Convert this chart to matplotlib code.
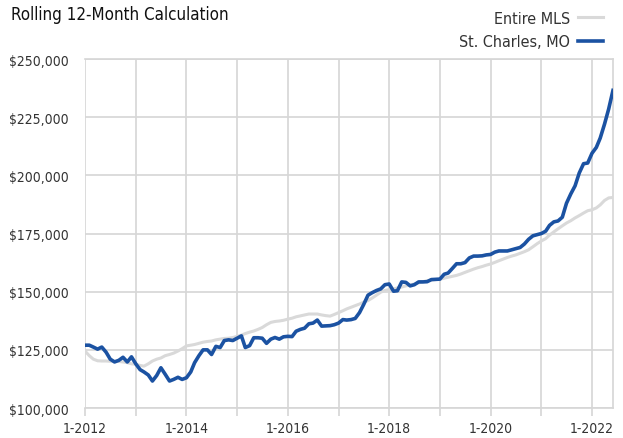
import matplotlib
matplotlib.use("Agg")
import matplotlib.pyplot as plt
import matplotlib.dates as mdate
import matplotlib.ticker as mtick
import pandas as pd

# monthly rolling 12-month median sales price, 1-2012 .. 6-2022
months = pd.date_range("2012-01-01", periods=126, freq="MS")

st_charles = [
    127000, 127000, 126200, 125300, 126200, 124000, 121000, 119800, 120500, 121800, 119800, 122000,
    119000, 116500, 115500, 114200, 111600, 114000, 117300, 114500, 111600, 112300, 113200, 112300,
    113000, 115500, 119500, 122500, 125000, 125000, 123000, 126500, 126000, 129000, 129300, 129000,
    130000, 131000, 126000, 126800, 130200, 130200, 130000, 127800, 129600, 130300, 129600, 130600,
    130800, 130700, 133000, 133800, 134300, 136200, 136500, 137800, 135200, 135300, 135400, 135800,
    136500, 138000, 137800, 138000, 138500, 141000, 144500, 148500, 149600, 150500, 151200, 153000,
    153300, 150200, 150400, 154200, 154000, 152500, 153000, 154200, 154200, 154300, 155200, 155300,
    155400, 157500, 158000, 160000, 162000, 162000, 162500, 164500, 165300, 165300, 165400, 165800,
    166000, 167000, 167500, 167500, 167500, 168000, 168500, 169000, 170500, 172500, 174000, 174500,
    175000, 176000, 178500, 180000, 180400, 182000, 188000, 192000, 195500, 201000, 205000, 205300,
    209500, 212000, 216000, 222000, 228500, 236500,
]

entire_mls = [
    124500, 122500, 121000, 120300, 120200, 120200, 120100, 120100, 120000, 119800, 119500, 119000,
    118800, 118300, 118000, 119000, 120200, 121000, 121500, 122500, 123000, 123600, 124500, 125500,
    126700, 127000, 127300, 127800, 128300, 128600, 128800, 129300, 129600, 129900, 130000, 130300,
    130800, 131300, 132000, 132600, 133100, 133800, 134600, 135800, 136800, 137200, 137400, 137700,
    138200, 138600, 139200, 139600, 140000, 140400, 140400, 140400, 140000, 139700, 139500, 140200,
    141000, 141800, 142600, 143300, 144000, 144700, 145500, 146200, 147300, 148500, 149800, 150500,
    150900, 151200, 151600, 152000, 152500, 152900, 153300, 153800, 154300, 154700, 155000, 155200,
    155400, 155800, 156200, 156600, 157000, 157600, 158300, 159000, 159700, 160300, 160800, 161400,
    161900, 162600, 163300, 164000, 164700, 165300, 165800, 166500, 167200, 168000, 169300, 170600,
    171800, 172800, 174300, 175700, 177000, 178300, 179500, 180500, 181700, 182700, 183800, 184800,
    185200, 186000, 187300, 189200, 190300, 190500,
]

plt.rcParams['font.family'] = ['DejaVu Sans']
plt.rcParams['font.stretch'] = 'condensed'

grid_col = '#d6d6d6'
blue = '#1b52a2'
gray = '#d9d9d9'

fig = plt.figure(figsize=(6.23, 4.39), dpi=100)
ax = fig.add_axes([0.1364, 0.0683, 0.8475, 0.795])

ax.plot(months, entire_mls, color=gray, lw=2.2, label='Entire MLS', zorder=3)
ax.plot(months, st_charles, color=blue, lw=2.6, label='St. Charles, MO', zorder=4)

ax.set_xlim(months[0], months[-1])
ax.set_ylim(100000, 250000)
ax.yaxis.set_major_locator(mtick.MultipleLocator(25000))
ax.yaxis.set_major_formatter(mtick.StrMethodFormatter('${x:,.0f}'))
ax.xaxis.set_major_locator(mdate.YearLocator(2))
ax.xaxis.set_minor_locator(mdate.YearLocator(1))
ax.xaxis.set_major_formatter(mdate.DateFormatter('1-%Y'))

ax.grid(True, which='both', color=grid_col, lw=1.2)
ax.set_axisbelow(True)
for s in ax.spines.values():
    s.set_color(grid_col)
    s.set_linewidth(1.2)
ax.spines['left'].set_visible(False)

ax.tick_params(axis='x', which='both', length=6, color=grid_col, width=1.2,
               labelsize=10, labelcolor='#333333', pad=3)
ax.tick_params(axis='y', length=0, labelsize=10, labelcolor='#333333', pad=12)

fig.text(0.018, 0.965, 'Rolling 12-Month Calculation', fontsize=12.2, color='#111111',
         ha='left', va='center')

leg = ax.legend(loc='lower right', bbox_to_anchor=(1.0, 1.0), frameon=False,
                markerfirst=False, handlelength=1.6, handletextpad=0.5,
                labelspacing=0.55, fontsize=11.5, borderaxespad=0.2)
for t in leg.get_texts():
    t.set_color('#333333')

fig.savefig('out.png', dpi=100)
